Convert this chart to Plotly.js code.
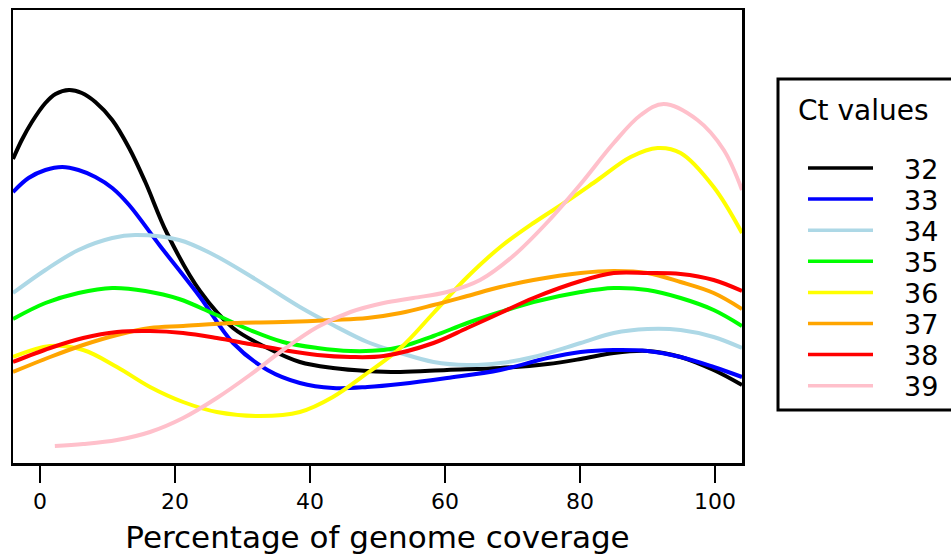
<!DOCTYPE html>
<html>
<head>
<meta charset="utf-8">
<script src="https://cdn.plot.ly/plotly-3.0.1.min.js"></script>
<style>html,body{margin:0;padding:0;background:#fff;}#chart{width:951px;height:557px;}</style>
</head>
<body>
<div id="chart"></div>
<script>
// Ct value groups and their colours
const ctLabels = ["32", "33", "34", "35", "36", "37", "38", "39"];
const ctColors = ["#000000", "#0000ff", "#add8e6", "#00ff00", "#ffff00", "#ffa500", "#ff0000", "#ffc0cb"];
const legendTitle = "Ct values";
const xTitle = "Percentage of genome coverage";
const xTicks = [0, 20, 40, 60, 80, 100];

// Density curves (x = percentage of genome coverage, y = density)
const x32 = [-4, -2.7, -1.2, 0.8, 2.3, 4.3, 6.2, 8.2, 10.7, 13.2, 15.6, 18.8, 23.7, 28.6, 33.7, 38.5, 43.4, 48.5, 53.4, 60.3, 68.2, 75.2, 80.1, 85.0, 90.0, 94.9, 99.8, 104];
const y32 = [0.0304, 0.0323, 0.0341, 0.0360, 0.0369, 0.0373, 0.0370, 0.0361, 0.0343, 0.0315, 0.0281, 0.0230, 0.0172, 0.0135, 0.0115, 0.0101, 0.0095, 0.0092, 0.0091, 0.0093, 0.0095, 0.0099, 0.0104, 0.0110, 0.0112, 0.0106, 0.0093, 0.0078];

const x33 = [-4, -1.7, 0.8, 3.3, 5.7, 8.2, 10.7, 13.2, 17.8, 23.7, 28.6, 33.7, 38.5, 43.4, 48.5, 53.4, 60.3, 68.2, 75.2, 80.1, 85.0, 90.0, 94.9, 99.8, 104];
const y33 = [0.0271, 0.0285, 0.0293, 0.0296, 0.0293, 0.0286, 0.0275, 0.0258, 0.0217, 0.0166, 0.0120, 0.0093, 0.0080, 0.0075, 0.0076, 0.0079, 0.0085, 0.0093, 0.0105, 0.0111, 0.0113, 0.0112, 0.0106, 0.0096, 0.0086];

const x34 = [-4, 0.8, 5.7, 10.7, 14.1, 20.6, 25.5, 31.4, 38.5, 43.4, 48.5, 53.4, 58.3, 63.3, 68.2, 73.1, 80.1, 85.0, 90.0, 94.9, 99.8, 104];
const y34 = [0.0170, 0.0193, 0.0213, 0.0225, 0.0228, 0.0223, 0.0209, 0.0186, 0.0156, 0.0138, 0.0121, 0.0110, 0.0101, 0.0098, 0.0100, 0.0106, 0.0120, 0.0130, 0.0134, 0.0133, 0.0126, 0.0115];

const x35 = [-4, 0.8, 5.7, 10.7, 15.6, 20.6, 25.5, 31.1, 36.0, 41.1, 46.0, 50.9, 53.4, 58.3, 63.3, 68.2, 73.1, 80.1, 85.0, 90.0, 94.9, 99.8, 104];
const y35 = [0.0144, 0.0160, 0.0170, 0.0175, 0.0172, 0.0164, 0.0150, 0.0133, 0.0121, 0.0115, 0.0112, 0.0113, 0.0116, 0.0127, 0.0140, 0.0151, 0.0161, 0.0171, 0.0175, 0.0173, 0.0165, 0.0153, 0.0137];

const x36 = [-4, 1.5, 6.4, 11.4, 16.3, 21.2, 26.2, 32.6, 38.5, 43.4, 48.5, 53.4, 58.3, 63.3, 68.2, 73.1, 78.1, 82.6, 87.5, 91.5, 94.9, 99.8, 104];
const y36 = [0.0106, 0.0117, 0.0113, 0.0096, 0.0076, 0.0061, 0.0051, 0.0047, 0.0051, 0.0066, 0.0090, 0.0115, 0.0150, 0.0186, 0.0216, 0.0240, 0.0262, 0.0283, 0.0306, 0.0315, 0.0310, 0.0276, 0.0230];

const x37 = [-4, 1.5, 6.4, 11.4, 16.3, 21.2, 28.6, 36.0, 43.4, 48.5, 53.4, 58.3, 63.3, 68.2, 73.1, 80.1, 85.0, 90.0, 94.9, 99.8, 104];
const y37 = [0.0091, 0.0106, 0.0118, 0.0128, 0.0135, 0.0137, 0.0140, 0.0141, 0.0143, 0.0145, 0.0150, 0.0158, 0.0167, 0.0176, 0.0183, 0.0190, 0.0192, 0.0190, 0.0181, 0.0170, 0.0154];

const x38 = [-4, 1.5, 6.4, 11.4, 16.3, 21.2, 26.2, 31.1, 36.0, 41.1, 46.0, 50.9, 58.3, 63.3, 68.2, 73.1, 80.1, 85.0, 90.0, 94.9, 99.8, 104];
const y38 = [0.0101, 0.0115, 0.0125, 0.0131, 0.0132, 0.0130, 0.0125, 0.0119, 0.0113, 0.0108, 0.0106, 0.0107, 0.0120, 0.0135, 0.0150, 0.0165, 0.0182, 0.0190, 0.0190, 0.0189, 0.0183, 0.0172];

const x39 = [2.2, 6.4, 11.4, 16.3, 21.2, 26.2, 31.1, 36.0, 41.1, 46.0, 50.9, 55.3, 60.3, 65.2, 70.1, 75.2, 80.1, 85.0, 89.0, 92.4, 97.4, 101.3, 104];
const y39 = [0.0017, 0.0019, 0.0023, 0.0031, 0.0045, 0.0065, 0.0088, 0.0113, 0.0136, 0.0151, 0.0160, 0.0165, 0.0171, 0.0183, 0.0207, 0.0241, 0.0279, 0.0320, 0.0348, 0.0359, 0.0343, 0.0313, 0.0273];

const xs = [x32, x33, x34, x35, x36, x37, x38, x39];
const ys = [y32, y33, y34, y35, y36, y37, y38, y39];

// page geometry
const W = 951, H = 557;
const M = {l: 13, r: 209, t: 10, b: 94};
const plotW = W - M.l - M.r, plotH = H - M.t - M.b;
const px = v => (v - M.l) / plotW;          // pixel x -> paper x
const py = v => (H - M.b - v) / plotH;       // pixel y -> paper y

const traces = ctLabels.map((lab, i) => ({
  type: "scatter",
  mode: "lines",
  name: lab,
  x: xs[i],
  y: ys[i],
  showlegend: false,
  line: {color: ctColors[i], width: 4, shape: "spline", smoothing: 1}
}));

// Legend drawn in the right margin (box, key lines, labels)
const shapes = [{
  type: "rect", xref: "paper", yref: "paper",
  x0: px(778), x1: px(965), y0: py(410), y1: py(79),
  line: {color: "#000000", width: 3}, fillcolor: "rgba(0,0,0,0)"
}];
const annotations = [{
  xref: "paper", yref: "paper", x: px(796), y: py(110),
  xanchor: "left", yanchor: "middle", showarrow: false,
  text: legendTitle,
  font: {family: "DejaVu Sans, sans-serif", size: 28, color: "#000000"}
}];
ctLabels.forEach((lab, i) => {
  const yy = 168 + 31.1 * i;
  shapes.push({
    type: "line", xref: "paper", yref: "paper",
    x0: px(808), x1: px(873), y0: py(yy), y1: py(yy),
    line: {color: ctColors[i], width: 3.5}
  });
  annotations.push({
    xref: "paper", yref: "paper", x: px(902), y: py(yy + 1),
    xanchor: "left", yanchor: "middle", showarrow: false,
    text: lab,
    font: {family: "DejaVu Sans, sans-serif", size: 27, color: "#000000"}
  });
});

const layout = {
  width: W,
  height: H,
  margin: {l: M.l, r: M.r, t: M.t, b: M.b, pad: 0},
  paper_bgcolor: "#ffffff",
  plot_bgcolor: "#ffffff",
  font: {family: "DejaVu Sans, sans-serif", color: "#000000"},
  showlegend: false,
  shapes: shapes,
  annotations: annotations,
  xaxis: {
    range: [-4, 104],
    tickvals: xTicks,
    ticktext: xTicks.map(String),
    ticks: "outside",
    ticklen: 17,
    tickwidth: 2.5,
    tickcolor: "#000000",
    tickfont: {family: "DejaVu Sans, sans-serif", size: 22, color: "#000000"},
    showline: true,
    linecolor: "#000000",
    linewidth: 2.5,
    mirror: true,
    showgrid: false,
    zeroline: false,
    title: {text: xTitle, font: {family: "DejaVu Sans, sans-serif", size: 31, color: "#000000"}, standoff: 14}
  },
  yaxis: {
    range: [0, 0.0453],
    showticklabels: false,
    ticks: "",
    showline: true,
    linecolor: "#000000",
    linewidth: 2.5,
    mirror: true,
    showgrid: false,
    zeroline: false
  }
};

Plotly.newPlot("chart", traces, layout, {staticPlot: true, displayModeBar: false});
</script>
</body>
</html>
